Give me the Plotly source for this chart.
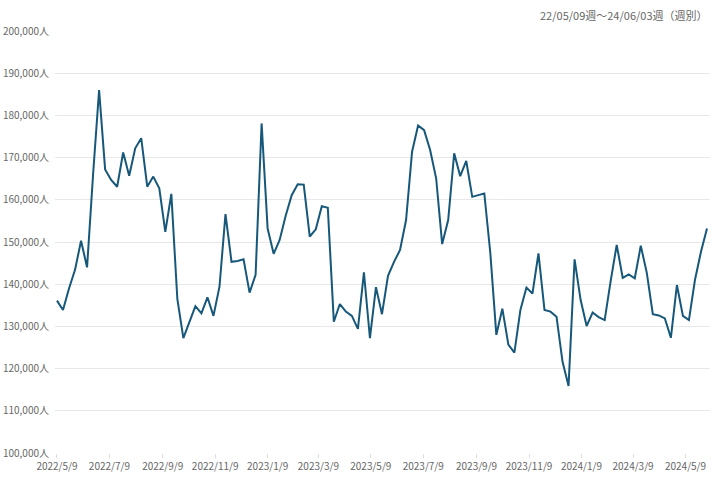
import pandas as pd
import plotly.graph_objects as go

start_week = "2022-05-09"
n_weeks = 109
weeks = pd.date_range(start_week, periods=n_weeks, freq="7D")

visitors = [
    136100, 133900, 139000, 143400, 150300, 144000, 166000, 186000, 167200, 164700,
    163100, 171200, 165700, 172200, 174600, 163100, 165500, 162700, 152400, 161400,
    136500, 127200, 131000, 134800, 133100, 136900, 132500, 139400, 156600, 145300,
    145500, 145900, 138000, 142200, 178100, 153200, 147200, 150500, 156200, 161100,
    163700, 163600, 151300, 153000, 158500, 158100, 131100, 135300, 133500, 132500,
    129400, 142800, 127200, 139300, 132900, 142000, 145300, 148100, 155200, 171400,
    177600, 176500, 171800, 165100, 149500, 155200, 171000, 165600, 169200, 160700,
    161100, 161500, 147400, 128000, 134200, 125700, 123800, 133900, 139200, 137800,
    147300, 133900, 133500, 132300, 121600, 115900, 145900, 136300, 130100, 133300,
    132200, 131500, 140800, 149300, 141500, 142300, 141400, 149100, 142700, 132900,
    132600, 131900, 127300, 139800, 132500, 131500, 141000, 147700, 153200,
]

tick_dates = ["2022-05-09", "2022-07-09", "2022-09-09", "2022-11-09", "2023-01-09",
              "2023-03-09", "2023-05-09", "2023-07-09", "2023-09-09", "2023-11-09",
              "2024-01-09", "2024-03-09", "2024-05-09"]
tick_labels = ["2022/5/9", "2022/7/9", "2022/9/9", "2022/11/9", "2023/1/9",
               "2023/3/9", "2023/5/9", "2023/7/9", "2023/9/9", "2023/11/9",
               "2024/1/9", "2024/3/9", "2024/5/9"]

y_ticks = list(range(100000, 200001, 10000))
y_labels = [f"{v:,}人" for v in y_ticks]

period_text = "22/05/09週～24/06/03週（週別）"

font_family = "Noto Sans CJK JP, Noto Sans, sans-serif"

fig = go.Figure()
fig.add_trace(go.Scatter(
    x=weeks, y=visitors, mode="lines",
    line=dict(color="#17587a", width=2),
    hoverinfo="x+y",
))

fig.update_layout(
    width=715, height=477,
    margin=dict(l=55, r=5, t=31, b=24),
    paper_bgcolor="white", plot_bgcolor="white",
    showlegend=False,
    font=dict(family=font_family, size=10, color="#666666"),
    xaxis=dict(
        range=["2022-05-06 17:00", "2024-06-06 12:00"],
        tickvals=tick_dates, ticktext=tick_labels,
        showgrid=False, zeroline=False,
        showline=False, automargin=False,
        ticks="outside", ticklen=4, tickcolor="#dddddd",
        tickfont=dict(size=10, color="#666666"),
    ),
    yaxis=dict(
        range=[100000, 200000],
        tickvals=y_ticks, ticktext=y_labels,
        showgrid=True, gridcolor="#e8e8e8", gridwidth=1,
        zeroline=False, showline=False, automargin=False,
        ticks="", ticklabelstandoff=5,
        tickfont=dict(size=10, color="#666666"),
    ),
    annotations=[dict(
        text=period_text, xref="paper", yref="paper",
        x=1.0, y=1.0, xanchor="right", yanchor="bottom", yshift=6,
        showarrow=False, font=dict(size=11, color="#666666", family=font_family),
    )],
)

fig.write_html(
    "out.html",
    config={"displayModeBar": False},
    post_script="document.body.style.margin='0';document.body.style.overflow='hidden';",
)
